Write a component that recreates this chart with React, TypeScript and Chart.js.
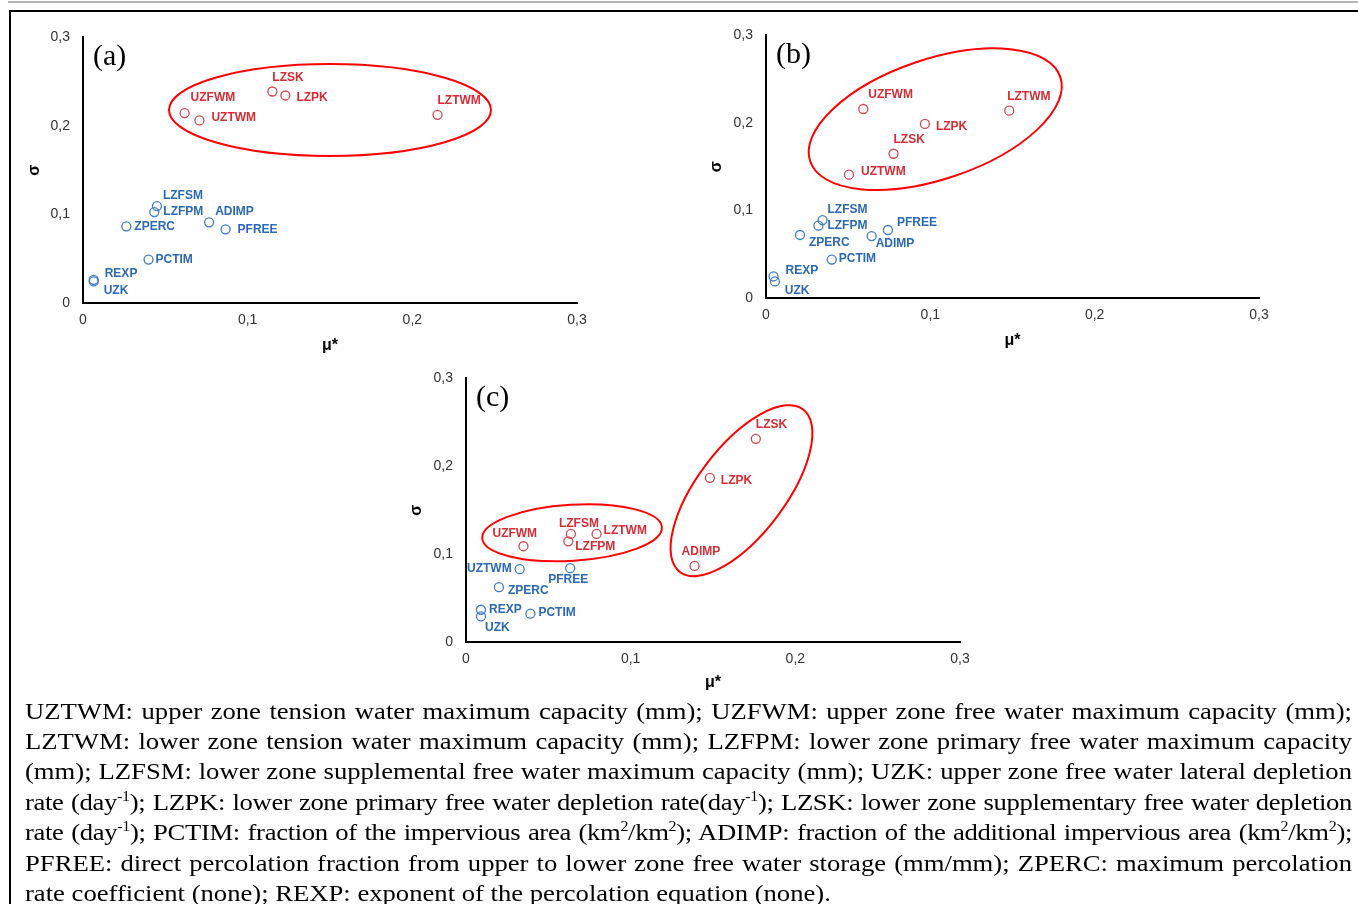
import React, { useEffect, useRef } from 'react';
import { Chart, registerables } from 'chart.js';

Chart.register(...registerables);

// ---------- data ----------
const PARAMS = ['UZTWM', 'UZFWM', 'LZTWM', 'LZFPM', 'LZFSM', 'UZK', 'LZPK', 'LZSK', 'PCTIM', 'ADIMP', 'PFREE', 'ZPERC', 'REXP'];

const MU_A = [0.0707, 0.0617, 0.2153, 0.0433, 0.0449, 0.0065, 0.1229, 0.115, 0.0398, 0.0766, 0.0866, 0.0263, 0.0065];
const SIGMA_A = [0.2062, 0.2145, 0.2126, 0.1027, 0.1095, 0.0244, 0.2344, 0.2389, 0.0491, 0.0911, 0.0832, 0.0866, 0.0262];
const SENSITIVE_A = ['UZTWM', 'UZFWM', 'LZTWM', 'LZPK', 'LZSK'];

const MU_B = [0.0505, 0.0592, 0.148, 0.0319, 0.0344, 0.0054, 0.0967, 0.0776, 0.04, 0.0643, 0.0742, 0.0207, 0.0046];
const SIGMA_B = [0.1409, 0.2159, 0.214, 0.0826, 0.089, 0.0189, 0.1989, 0.1648, 0.0439, 0.0708, 0.0777, 0.072, 0.0246];
const SENSITIVE_B = ['UZTWM', 'UZFWM', 'LZTWM', 'LZPK', 'LZSK'];

const MU_C = [0.0326, 0.0349, 0.0793, 0.0621, 0.0637, 0.0091, 0.1481, 0.176, 0.0391, 0.1388, 0.0633, 0.02, 0.0091];
const SIGMA_C = [0.0829, 0.109, 0.123, 0.1146, 0.123, 0.0291, 0.1869, 0.2312, 0.0322, 0.0866, 0.084, 0.0624, 0.0367];
const SENSITIVE_C = ['UZFWM', 'LZTWM', 'LZFPM', 'LZFSM', 'LZPK', 'LZSK', 'ADIMP'];

const TICK_VALUES = [0, 0.1, 0.2, 0.3];
const X_TITLE = 'μ*';
const Y_TITLE = 'σ';

// ---------- styles / annotation placement ----------
const RED_TEXT = '#d42d35';
const RED_MARK = '#cc4a50';
const BLUE_TEXT = '#2a69b3';
const BLUE_MARK = '#3f7bbf';
const ELLIPSE_COLOR = '#ff0000';
const TICK_COLOR = '#333333';

type Pos = [number, number, CanvasTextAlign?];

const LABELS_A: Record<string, Pos> = {
  UZTWM: [12, -3], UZFWM: [6, -15], LZTWM: [0, -14], LZFPM: [9, 0], LZFSM: [6, -10], UZK: [10, 9],
  LZPK: [11, 2], LZSK: [0, -14], PCTIM: [7, 0], ADIMP: [6, -11], PFREE: [12, 0], ZPERC: [8, 0], REXP: [11, -6],
};
const LABELS_B: Record<string, Pos> = {
  UZTWM: [12, -3], UZFWM: [5, -14], LZTWM: [-2, -14], LZFPM: [9, 0], LZFSM: [5, -10], UZK: [10, 9],
  LZPK: [11, 3], LZSK: [0, -14], PCTIM: [7, -1], ADIMP: [4, 8], PFREE: [9, -7], ZPERC: [9, 8], REXP: [12, -6],
};
const LABELS_C: Record<string, Pos> = {
  UZTWM: [-8, 0, 'right'], UZFWM: [-31, -13], LZTWM: [7, -3], LZFPM: [7, 5], LZFSM: [-12, -10], UZK: [4, 11],
  LZPK: [11, 3], LZSK: [0, -14], PCTIM: [8, -1], ADIMP: [-13, -14], PFREE: [-22, 11], ZPERC: [9, 4], REXP: [8, 0],
};

type Ell = { cx: number; cy: number; rx: number; ry: number; rot: number };
const ELLIPSES_A: Ell[] = [{ cx: 0.15, cy: 0.218, rx: 161, ry: 46, rot: 0 }];
const ELLIPSES_B: Ell[] = [{ cx: 0.103, cy: 0.2043, rx: 132, ry: 60, rot: -18.6 }];
const ELLIPSES_C: Ell[] = [
  { cx: 0.0644, cy: 0.1243, rx: 90, ry: 28, rot: -3.5 },
  { cx: 0.1673, cy: 0.1722, rx: 102, ry: 44, rot: -52.8 },
];

const fmtTick = (v: number) => (v === 0 ? '0' : Number(v).toFixed(1).replace('.', ','));

type PanelProps = {
  mu: number[];
  sigma: number[];
  sensitive: string[];
  tag: string;
  labels: Record<string, Pos>;
  ellipses: Ell[];
  left: number;
  top: number;
  width: number;
  height: number;
  yTitlePad: number;
  xTitlePad: number;
};

function Panel(p: PanelProps) {
  const ref = useRef<HTMLCanvasElement>(null);
  useEffect(() => {
    const canvas = ref.current;
    if (!canvas) return;
    const pts = (sens: boolean) =>
      PARAMS.map((name, i) => ({ x: p.mu[i], y: p.sigma[i], name })).filter((d) => p.sensitive.includes(d.name) === sens);

    const labelPlugin = {
      id: 'pointLabels',
      afterDatasetsDraw(chart: any) {
        const ctx = chart.ctx;
        ctx.save();
        ctx.font = 'bold 12px "Liberation Sans", Arial, sans-serif';
        ctx.textBaseline = 'middle';
        chart.data.datasets.forEach((ds: any, di: number) => {
          const meta = chart.getDatasetMeta(di);
          ctx.fillStyle = di === 0 ? RED_TEXT : BLUE_TEXT;
          meta.data.forEach((el: any, i: number) => {
            const d = ds.data[i];
            const pos = p.labels[d.name] || [8, 0];
            ctx.textAlign = pos[2] || 'left';
            ctx.fillText(d.name, el.x + pos[0], el.y + pos[1]);
          });
        });
        ctx.restore();
      },
    };
    const ellipsePlugin = {
      id: 'groupEllipses',
      afterDatasetsDraw(chart: any) {
        const ctx = chart.ctx;
        const xs = chart.scales.x;
        const ys = chart.scales.y;
        ctx.save();
        ctx.strokeStyle = ELLIPSE_COLOR;
        ctx.lineWidth = 2;
        p.ellipses.forEach((e) => {
          ctx.beginPath();
          ctx.ellipse(xs.getPixelForValue(e.cx), ys.getPixelForValue(e.cy), e.rx, e.ry, (e.rot * Math.PI) / 180, 0, Math.PI * 2);
          ctx.stroke();
        });
        ctx.restore();
      },
    };
    const tagPlugin = {
      id: 'panelTag',
      afterDraw(chart: any) {
        const ctx = chart.ctx;
        const a = chart.chartArea;
        ctx.save();
        ctx.font = '30px "Liberation Serif", "Times New Roman", serif';
        ctx.fillStyle = '#000';
        ctx.textBaseline = 'middle';
        ctx.textAlign = 'left';
        ctx.fillText(p.tag, a.left + 10, a.top + 20);
        ctx.restore();
      },
    };

    const axisCommon = (titleText: string, pad: any, tickPad: number) => ({
      type: 'linear',
      min: 0,
      max: 0.3,
      afterBuildTicks: (s: any) => {
        s.ticks = TICK_VALUES.map((v) => ({ value: v }));
      },
      ticks: {
        padding: tickPad,
        color: TICK_COLOR,
        font: { family: '"Liberation Sans", Arial, sans-serif', size: 14 },
        callback: (v: any) => fmtTick(Number(v)),
      },
      grid: { display: false, drawTicks: false },
      border: { display: true, color: '#000', width: 2 },
      title: {
        display: true,
        text: titleText,
        color: '#000',
        font: { family: '"Liberation Sans", Arial, sans-serif', size: 16, weight: 'bold' },
        padding: pad,
      },
    });

    const chart = new Chart(canvas, {
      type: 'scatter',
      data: {
        datasets: [
          {
            label: 'sensitive',
            data: pts(true),
            borderColor: RED_MARK,
            backgroundColor: 'rgba(0,0,0,0)',
            pointRadius: 4.5,
            pointHoverRadius: 4.5,
            borderWidth: 1.3,
          },
          {
            label: 'other',
            data: pts(false),
            borderColor: BLUE_MARK,
            backgroundColor: 'rgba(0,0,0,0)',
            pointRadius: 4.5,
            pointHoverRadius: 4.5,
            borderWidth: 1.3,
          },
        ],
      },
      options: {
        animation: false,
        responsive: false,
        events: [],
        layout: { padding: { left: 0, top: 20, right: 30, bottom: 0 } },
        plugins: { legend: { display: false }, tooltip: { enabled: false } },
        scales: {
          x: {
            ...axisCommon(X_TITLE, { top: 0, bottom: p.xTitlePad }, 9),
            afterFit: (s: any) => {
              s.height = 56;
            },
          },
          y: {
            ...axisCommon(Y_TITLE, { top: p.yTitlePad, bottom: 0 }, 13),
            afterFit: (s: any) => {
              s.width = 63;
            },
          },
        },
      } as any,
      plugins: [ellipsePlugin, labelPlugin, tagPlugin],
    } as any);
    return () => chart.destroy();
  }, []);
  return (
    <canvas
      ref={ref}
      width={p.width}
      height={p.height}
      style={{ position: 'absolute', left: p.left, top: p.top, width: p.width, height: p.height }}
    />
  );
}

const CAPTION_SCALE = 1.11;
const lineStyle: React.CSSProperties = { textAlign: 'justify', textAlignLast: 'justify' as any, whiteSpace: 'nowrap' };
const tightLine: React.CSSProperties = { ...lineStyle, letterSpacing: '-0.3px' };
const supStyle: React.CSSProperties = { fontSize: '0.6em', verticalAlign: 'super', lineHeight: 0 };

export default function App() {
  return (
    <div style={{ position: 'absolute', left: 0, top: 0, width: 1358, height: 904, overflow: 'hidden', background: '#fff' }}>
      <div style={{ position: 'absolute', left: 8, top: 1, width: 1350, height: 2, background: '#b4b4b4' }} />
      <div style={{ position: 'absolute', left: 9, top: 10, width: 1349, height: 2, background: '#000' }} />
      <div style={{ position: 'absolute', left: 9, top: 10, width: 2, height: 894, background: '#000' }} />

      <Panel mu={MU_A} sigma={SIGMA_A} sensitive={SENSITIVE_A} tag="(a)" labels={LABELS_A} ellipses={ELLIPSES_A}
        left={20} top={16} width={587} height={343} yTitlePad={5.4} xTitlePad={3.4} />
      <Panel mu={MU_B} sigma={SIGMA_B} sensitive={SENSITIVE_B} tag="(b)" labels={LABELS_B} ellipses={ELLIPSES_B}
        left={703} top={14} width={586} height={340} yTitlePad={4.4} xTitlePad={3.7} />
      <Panel mu={MU_C} sigma={SIGMA_C} sensitive={SENSITIVE_C} tag="(c)" labels={LABELS_C} ellipses={ELLIPSES_C}
        left={403} top={357} width={587} height={341} yTitlePad={4.2} xTitlePad={5.7} />

      <div
        style={{
          position: 'absolute',
          left: 25,
          top: 695.5,
          width: 1327 / CAPTION_SCALE,
          transform: `scaleX(${CAPTION_SCALE})`,
          transformOrigin: '0 0',
          fontFamily: '"Liberation Serif", "Times New Roman", serif',
          fontSize: 24,
          lineHeight: '30.4px',
          color: '#000',
        }}
      >
        <div style={lineStyle}>UZTWM: upper zone tension water maximum capacity (mm); UZFWM: upper zone free water maximum capacity (mm);</div>
        <div style={lineStyle}>LZTWM: lower zone tension water maximum capacity (mm); LZFPM: lower zone primary free water maximum capacity</div>
        <div style={lineStyle}>(mm); LZFSM: lower zone supplemental free water maximum capacity (mm); UZK: upper zone free water lateral depletion</div>
        <div style={tightLine}>
          rate (day<span style={supStyle}>-1</span>); LZPK: lower zone primary free water depletion rate(day<span style={supStyle}>-1</span>); LZSK: lower zone supplementary free water depletion
        </div>
        <div style={tightLine}>
          rate (day<span style={supStyle}>-1</span>); PCTIM: fraction of the impervious area (km<span style={supStyle}>2</span>/km<span style={supStyle}>2</span>); ADIMP: fraction of the additional impervious area (km<span style={supStyle}>2</span>/km<span style={supStyle}>2</span>);
        </div>
        <div style={lineStyle}>PFREE: direct percolation fraction from upper to lower zone free water storage (mm/mm); ZPERC: maximum percolation</div>
        <div style={{ whiteSpace: 'nowrap' }}>rate coefficient (none); REXP: exponent of the percolation equation (none).</div>
      </div>
    </div>
  );
}
